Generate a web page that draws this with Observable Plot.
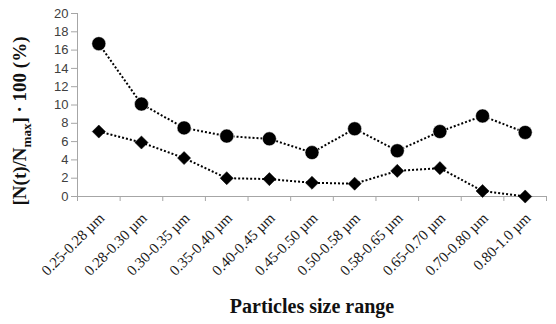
<!DOCTYPE html>
<html><head><meta charset="utf-8">
<script src="https://cdn.jsdelivr.net/npm/d3@7"></script>
<script src="https://cdn.jsdelivr.net/npm/@observablehq/plot@0.6"></script>
<style>body{margin:0;background:#fff}</style>
</head><body><div id="chart"></div>
<script>
const categories = ["0.25-0.28 µm","0.28-0.30 µm","0.30-0.35 µm","0.35-0.40 µm","0.40-0.45 µm","0.45-0.50 µm","0.50-0.58 µm","0.58-0.65 µm","0.65-0.70 µm","0.70-0.80 µm","0.80-1.0 µm"];
const seriesCircle = [16.7, 10.1, 7.5, 6.6, 6.3, 4.8, 7.4, 5.0, 7.1, 8.8, 7.0];
const seriesDiamond = [7.1, 5.9, 4.2, 2.0, 1.9, 1.5, 1.4, 2.8, 3.1, 0.6, 0.0];
const yTicks = [0, 2, 4, 6, 8, 10, 12, 14, 16, 18, 20];
const xTitle = "Particles size range";

const rows = categories.map((c, i) => ({cat: c, xi: i + 0.5, circle: seriesCircle[i], diamond: seriesDiamond[i]}));
const boundaries = d3.range(categories.length + 1);

const chart = Plot.plot({
  width: 556, height: 324,
  marginLeft: 77, marginRight: 10, marginTop: 13, marginBottom: 128,
  style: {background: "#fff", fontFamily: "'Liberation Sans', Arial, sans-serif", fontSize: "13px", color: "#404040"},
  x: {type: "linear", domain: [0, categories.length], ticks: boundaries, tickFormat: () => "", tickSize: 5, label: null},
  y: {domain: [0, 20], ticks: yTicks, tickSize: 6, tickPadding: 3, label: null},
  marks: [
    Plot.ruleY([0], {stroke: "#a6a6a6"}),
    Plot.ruleX([0], {stroke: "#a6a6a6"}),
    Plot.line(rows, {x: "xi", y: "circle", stroke: "#000", strokeWidth: 2, strokeDasharray: "2,2", strokeLinecap: "butt"}),
    Plot.line(rows, {x: "xi", y: "diamond", stroke: "#000", strokeWidth: 2, strokeDasharray: "2,2", strokeLinecap: "butt"}),
    Plot.dot(rows, {x: "xi", y: "circle", r: 7, fill: "#000", stroke: "#fff", strokeWidth: 0.5}),
    Plot.dot(rows, {x: "xi", y: "diamond", r: 5.9, symbol: "diamond2", fill: "#000", stroke: "#000", strokeWidth: 0.5}),
    Plot.text(rows, {x: "xi", y: () => 0, text: "cat", rotate: -45, textAnchor: "end", fontFamily: "'Liberation Serif', 'Times New Roman', serif", fontSize: 15, fill: "#1a1a1a", dx: 3, dy: 19})
  ]
});

const svg = d3.select(chart);
svg.selectAll("g[aria-label='x-axis tick'], g[aria-label='y-axis tick']").attr("stroke", "#a6a6a6");

const yl = svg.append("text")
  .attr("transform", "translate(26,121) rotate(-90)")
  .attr("text-anchor", "middle")
  .attr("font-family", "'Liberation Serif', 'Times New Roman', serif")
  .attr("font-weight", "bold")
  .attr("font-size", 19)
  .attr("fill", "#111");
yl.append("tspan").text("[N(t)/N");
yl.append("tspan").attr("font-size", 13).attr("dy", 5).text("max");
yl.append("tspan").attr("dy", -5).text("] · 100 (%)");

svg.append("text")
  .attr("x", 312).attr("y", 313)
  .attr("text-anchor", "middle")
  .attr("font-family", "'Liberation Serif', 'Times New Roman', serif")
  .attr("font-weight", "bold")
  .attr("font-size", 20)
  .attr("fill", "#111")
  .text(xTitle);

document.getElementById("chart").append(chart);
</script>
</body></html>
